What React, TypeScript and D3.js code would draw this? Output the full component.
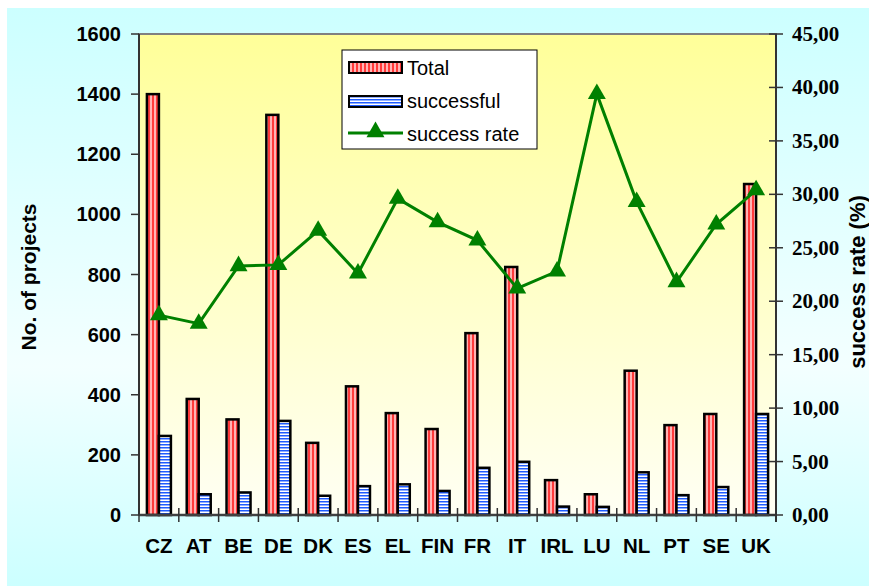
import React from "react";
import * as d3 from "d3";

const categories = ["CZ", "AT", "BE", "DE", "DK", "ES", "EL", "FIN", "FR", "IT", "IRL", "LU", "NL", "PT", "SE", "UK"];
const totalValues = [1400, 386, 318, 1331, 240, 428, 339, 286, 605, 825, 116, 69, 480, 299, 336, 1101];
const successfulValues = [263, 69, 75, 313, 64, 96, 102, 80, 157, 177, 28, 27, 142, 66, 93, 336];
const successRate = [18.7, 17.9, 23.3, 23.4, 26.6, 22.6, 29.6, 27.4, 25.7, 21.2, 22.8, 39.4, 29.3, 21.8, 27.2, 30.4];
const leftTicks = [0, 200, 400, 600, 800, 1000, 1200, 1400, 1600];
const rightTicks = [0, 5, 10, 15, 20, 25, 30, 35, 40, 45];
const seriesNames = ["Total", "successful", "success rate"];

const W = 869;
const H = 586;
const plot = { left: 139, right: 776, top: 34, bottom: 515 };

export default function App() {
  const x = d3.scaleBand<string>().domain(categories).range([plot.left, plot.right]).padding(0);
  const yL = d3.scaleLinear().domain([0, 1600]).range([plot.bottom, plot.top]);
  const yR = d3.scaleLinear().domain([0, 45]).range([plot.bottom, plot.top]);
  const barW = 12;
  const cx = (c: string) => (x(c) as number) + x.bandwidth() / 2;
  const line = d3
    .line<number>()
    .x((_, i) => cx(categories[i]))
    .y((d) => yR(d));
  const tri = d3.symbol(d3.symbolTriangle, 140)() as string;
  const sans = "'Liberation Sans', Arial, sans-serif";
  const serif = "'Liberation Serif', 'Times New Roman', serif";
  const fmt = (v: number) => v.toFixed(2).replace(".", ",");
  const boundaries = d3.range(categories.length + 1).map((i) => plot.left + i * x.bandwidth());

  return (
    <svg width={W} height={H} style={{ position: "absolute", left: 0, top: 0 }}>
      <defs>
        <linearGradient id="outerBg" x1="0" y1="0" x2="0" y2="1">
          <stop offset="0" stopColor="#CCFFFF" />
          <stop offset="0.62" stopColor="#F3FFFF" />
          <stop offset="1" stopColor="#CCFFFF" />
        </linearGradient>
        <linearGradient id="plotBg" x1="0" y1="0" x2="0" y2="1">
          <stop offset="0" stopColor="#FFFF99" />
          <stop offset="1" stopColor="#FFFFF4" />
        </linearGradient>
        <pattern id="redStripes" patternUnits="userSpaceOnUse" width="4" height="4">
          <rect x="0" y="0" width="4" height="4" fill="#FFB3B3" />
          <rect x="0" y="0" width="2" height="4" fill="#FF3B3B" />
        </pattern>
        <pattern id="blueStripes" patternUnits="userSpaceOnUse" width="4" height="3">
          <rect x="0" y="0" width="4" height="3" fill="#FFFFFF" />
          <rect x="0" y="0" width="4" height="1.5" fill="#1F5BFF" />
        </pattern>
      </defs>
      <rect x={0} y={0} width={W} height={H} fill="#FFFFFF" />
      <rect x={7} y={8} width={W - 7} height={H - 8} fill="url(#outerBg)" />
      <rect
        x={plot.left}
        y={plot.top}
        width={plot.right - plot.left}
        height={plot.bottom - plot.top}
        fill="url(#plotBg)"
        stroke="#808080"
        strokeWidth={2}
      />

      {/* bars */}
      {categories.map((c, i) => (
        <g key={c}>
          <rect
            x={cx(c) - barW}
            y={yL(totalValues[i])}
            width={barW}
            height={plot.bottom - yL(totalValues[i])}
            fill="url(#redStripes)"
            stroke="#000"
            strokeWidth={2.5}
          />
          <rect
            x={cx(c)}
            y={yL(successfulValues[i])}
            width={barW}
            height={plot.bottom - yL(successfulValues[i])}
            fill="url(#blueStripes)"
            stroke="#000"
            strokeWidth={2.5}
          />
        </g>
      ))}

      {/* axes */}
      <line x1={plot.left} x2={plot.left} y1={plot.top} y2={plot.bottom} stroke="#333" strokeWidth={2} />
      <line x1={plot.right} x2={plot.right} y1={plot.top} y2={plot.bottom + 7} stroke="#333" strokeWidth={2} />
      <line x1={plot.left} x2={plot.right} y1={plot.bottom} y2={plot.bottom} stroke="#404040" strokeWidth={2.5} />
      {boundaries.map((b, i) => (
        <line key={"b" + i} x1={b} x2={b} y1={plot.bottom - 7} y2={plot.bottom + 7} stroke="#333" strokeWidth={1.5} />
      ))}
      {leftTicks.map((t) => (
        <g key={"l" + t}>
          <line x1={plot.left - 8} x2={plot.left} y1={yL(t)} y2={yL(t)} stroke="#333" strokeWidth={1.5} />
          <text
            x={121}
            y={yL(t)}
            textAnchor="end"
            dominantBaseline="central"
            fontFamily={sans}
            fontWeight="bold"
            fontSize={20}
          >
            {t}
          </text>
        </g>
      ))}
      {rightTicks.map((t) => (
        <g key={"r" + t}>
          <line x1={plot.right - 7} x2={plot.right + 7} y1={yR(t)} y2={yR(t)} stroke="#333" strokeWidth={1.5} />
          <text
            x={792}
            y={yR(t)}
            textAnchor="start"
            dominantBaseline="central"
            fontFamily={serif}
            fontWeight="bold"
            fontSize={21}
          >
            {fmt(t)}
          </text>
        </g>
      ))}
      {categories.map((c) => (
        <text
          key={"c" + c}
          x={cx(c)}
          y={553}
          textAnchor="middle"
          fontFamily={sans}
          fontWeight="bold"
          fontSize={20.5}
        >
          {c}
        </text>
      ))}

      {/* axis titles */}
      <text
        transform="translate(36,277) rotate(-90)"
        textAnchor="middle"
        fontFamily={sans}
        fontWeight="bold"
        fontSize={21}
      >
        No. of projects
      </text>
      <text
        transform="translate(865,282) rotate(-90)"
        textAnchor="middle"
        fontFamily={sans}
        fontWeight="bold"
        fontSize={22}
      >
        success rate (%)
      </text>

      {/* line */}
      <path d={line(successRate) as string} fill="none" stroke="#008000" strokeWidth={3} />
      {successRate.map((v, i) => (
        <path key={"m" + i} d={tri} transform={`translate(${cx(categories[i])},${yR(v)})`} fill="#008000" />
      ))}

      {/* legend */}
      <g>
        <rect x={342} y={50} width={195} height={99} fill="#FFFFFF" stroke="#000" strokeWidth={1} />
        <rect x={349} y={62} width={53} height={11} fill="url(#redStripes)" stroke="#000" strokeWidth={2} />
        <rect x={349} y={96} width={53} height={11} fill="url(#blueStripes)" stroke="#000" strokeWidth={2} />
        <line x1={348} x2={403} y1={133} y2={133} stroke="#008000" strokeWidth={3} />
        <path d={tri} transform="translate(375.5,132)" fill="#008000" />
        {seriesNames.map((n, i) => (
          <text
            key={n}
            x={407}
            y={68 + i * 33}
            dominantBaseline="central"
            fontFamily={sans}
            fontSize={20}
          >
            {n}
          </text>
        ))}
      </g>
    </svg>
  );
}
